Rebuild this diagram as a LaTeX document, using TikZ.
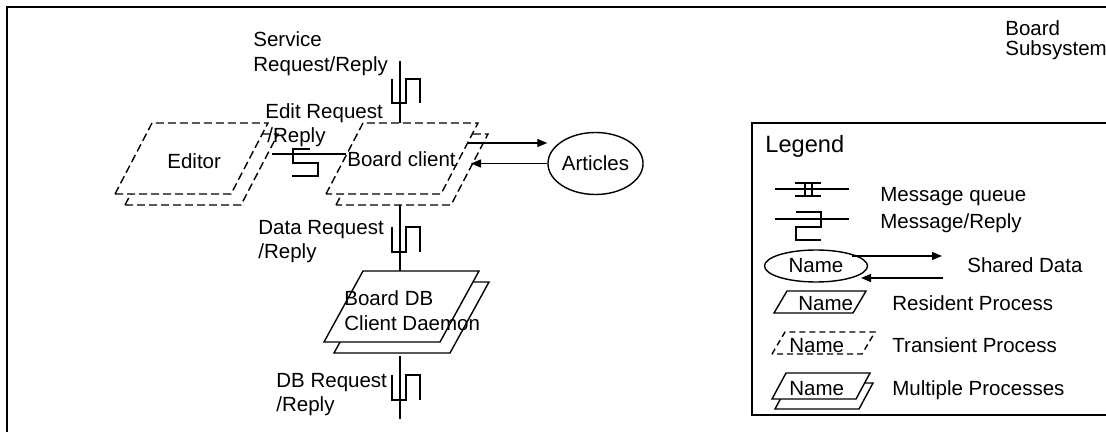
\documentclass[tikz,border=0pt]{standalone}
\usepackage{fontspec}
\setmainfont{Liberation Sans}
\usetikzlibrary{arrows.meta,shapes.geometric}
\newcommand\lbfont{\fontsize{10.25pt}{11pt}\selectfont}
\newcommand\lgfont{\fontsize{11.8pt}{13pt}\selectfont}
% vertical message/reply symbol on a line at x=#1, from y=#2 to y=#3
\newcommand\mrsym[3]{\draw[ln] (#1-8,#2) -- (#1-8,#3) -- (#1+6,#3) -- (#1+6,#2) -- (#1+20,#2) -- (#1+20,#3);}
\tikzset{
  ln/.style={line width=0.7pt},
  frame/.style={line width=1pt},
  transient/.style={ln, dash pattern=on 4pt off 2pt},
  lbl/.style={anchor=base west, inner sep=0pt, font=\lbfont},
  arr/.style={ln, -{Triangle[length=5pt,width=4pt]}},
}
\begin{document}
\begin{tikzpicture}[x=0.5pt,y=-0.5pt]
\useasboundingbox (0,0) rectangle (1106,432);
\fill[white] (0,0) rectangle (1106,432);

% outer frame and legend frame
\draw[frame] (7,7) rectangle (1130,450);
\draw[frame] (752,123) rectangle (1130,415);

\node[lbl] (sub1) at (1005,36) {Board};
\node[lbl] (sub2) at (1005,56) {Subsystem};

% ---------------- Editor (transient, multiple) ----------------
\draw[transient] (125,205) -- (162,134) -- (278,134) -- (241,205) -- cycle;
\draw[transient, fill=white] (115,194) -- (152,123) -- (268,123) -- (231,194) -- cycle;
\node[lbl] (editor) at (167,169) {Editor};

% ---------------- Board client (transient, multiple) ----------------
\draw[transient] (336,205) -- (373,134) -- (488,134) -- (451,205) -- cycle;
\draw[transient, fill=white] (326,194) -- (363,123) -- (478,123) -- (441,194) -- cycle;
\node[lbl] (bclient) at (347,167) {Board client};

% ---------------- Board DB Client Daemon (resident, multiple) ----------------
\draw[ln] (334,353) -- (373,282) -- (489,282) -- (450,353) -- cycle;
\draw[ln, fill=white] (324,342) -- (363,271) -- (479,271) -- (440,342) -- cycle;
\node[lbl] (bdb1) at (344,306) {Board DB};
\node[lbl] (bdb2) at (344,330) {Client Daemon};

% ---------------- Articles ----------------
\node[draw, ln, ellipse, minimum width=42.5pt, minimum height=31pt, inner sep=0pt, font=\lbfont]
  (articles) at (595.5,163.5) {Articles};

% connection points
\coordinate (svcTop) at (400,61);
\coordinate (bcTop) at (400,123);
\coordinate (bcBot) at (400,205);
\coordinate (dbTop) at (400,271);
\coordinate (dbBot) at (400,356);
\coordinate (dbEnd) at (400,419);
\coordinate (edOut) at (272,154);
\coordinate (bcEdit) at (346,154);
\coordinate (bcOut) at (468,143);
\coordinate (bcIn) at (471,163.5);

% service request/reply
\draw[ln] (svcTop) -- (bcTop);
\mrsym{400}{79}{103}
\node[lbl] (svc1) at (253,47) {Service};
\node[lbl] (svc2) at (253,72) {Request/Reply};

% edit request/reply
\draw[ln] (edOut) -- (bcEdit);
\draw[ln] (310,149) -- (293,149) -- (293,163) -- (318,163) -- (318,176) -- (292,176);
\node[lbl] (ed1) at (265,119) {Edit Request};
\node[lbl] (ed2) at (267,143) {/Reply};

% shared data access
\draw[arr] (bcOut) -- (bcOut -| articles.west);
\draw[arr] (articles.west) -- (bcIn);

% data request/reply
\draw[ln] (bcBot) -- (dbTop);
\mrsym{400}{227}{252}
\node[lbl] (dr1) at (258,235) {Data Request};
\node[lbl] (dr2) at (258,259) {/Reply};

% DB request/reply
\draw[ln] (dbBot) -- (dbEnd);
\mrsym{400}{375}{400}
\node[lbl] (dbr1) at (276,387) {DB Request};
\node[lbl] (dbr2) at (276,411) {/Reply};

% ---------------- Legend ----------------
\node[lbl, font=\lgfont] (legend) at (765,153) {Legend};

% message queue
\coordinate (mqA) at (775,189);
\coordinate (mqB) at (849,189);
\draw[ln] (mqA) -- (mqB);
\draw[ln] (795,183) -- (821,183) (795,196) -- (821,196) (805,183) -- (805,196) (812,183) -- (812,196);
\node[lbl] (mq) at (880,202) {Message queue};

% message/reply
\coordinate (mrA) at (775,219);
\coordinate (mrB) at (849,219);
\draw[ln] (mrA) -- (mrB);
\draw[ln] (796,212) -- (821,212) -- (821,227) -- (796,227) -- (796,240) -- (821,240);
\node[lbl] (mr) at (880,229) {Message/Reply};

% shared data
\node[draw, ln, ellipse, minimum width=51.5pt, minimum height=16pt, inner sep=0pt, font=\lbfont]
  (nameEll) at (816,266) {Name};
\coordinate (sdA) at (852,256);
\coordinate (sdB) at (942,256);
\coordinate (sdC) at (943,278);
\coordinate (sdD) at (861,278);
\draw[arr] (sdA) -- (sdB);
\draw[arr] (sdC) -- (sdD);
\node[lbl] (sd) at (967,272) {Shared Data};

% resident process
\draw[ln] (774,313) -- (787,291) -- (866,291) -- (853,313) -- cycle;
\node[lbl] (rpn) at (798,310) {Name};
\node[lbl] (rp) at (892,310) {Resident Process};

% transient process
\draw[ln, dash pattern=on 3pt off 2pt] (772,354) -- (785,332) -- (875,332) -- (862,354) -- cycle;
\node[lbl] (tpn) at (789,352) {Name};
\node[lbl] (tp) at (892,352) {Transient Process};

% multiple processes
\draw[ln] (775,409) -- (789,383) -- (873,383) -- (859,409) -- cycle;
\draw[ln, fill=white] (772,399) -- (786,373) -- (870,373) -- (856,399) -- cycle;
\node[lbl] (mpn) at (789,395) {Name};
\node[lbl] (mp) at (892,395) {Multiple Processes};
\end{tikzpicture}
\end{document}
